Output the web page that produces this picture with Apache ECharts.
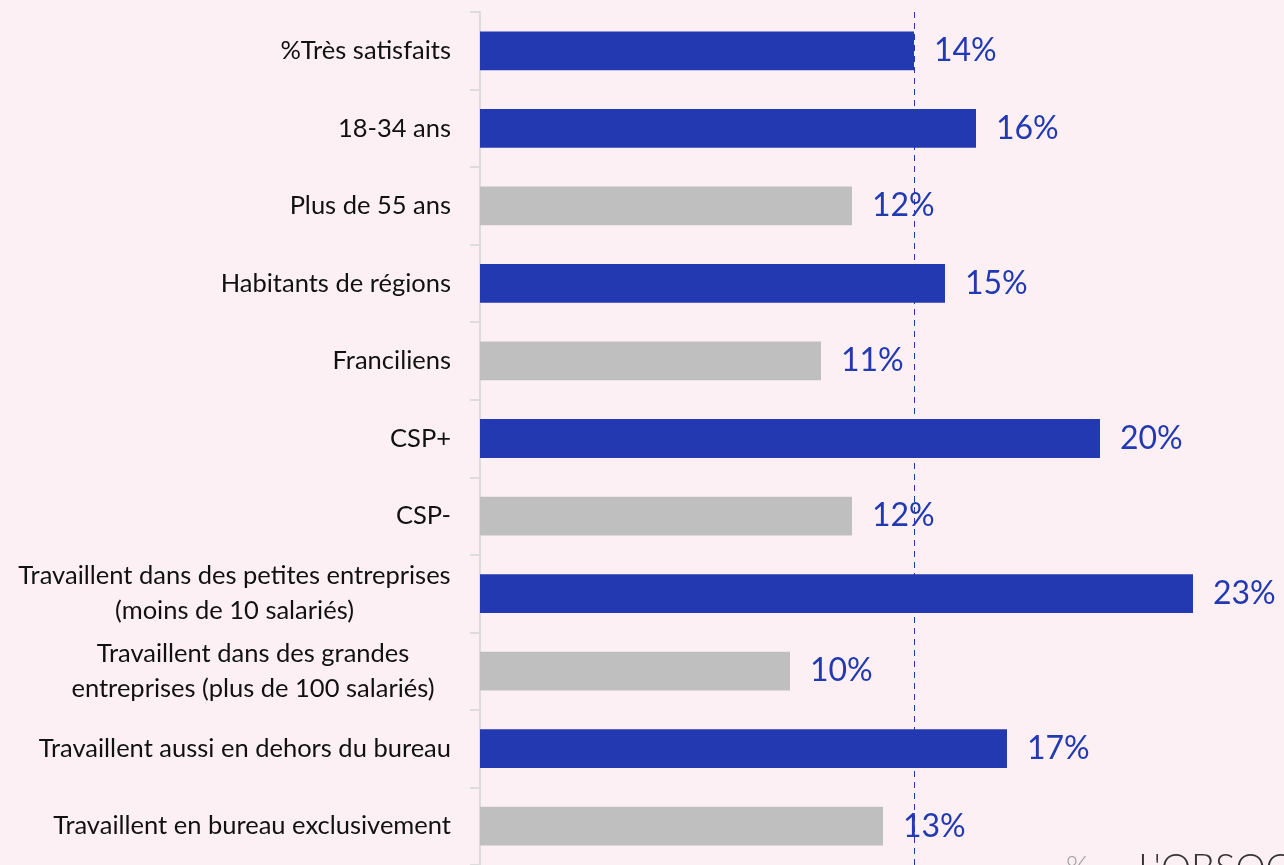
<!DOCTYPE html>
<html>
<head>
<meta charset="utf-8">
<script src="https://cdn.jsdelivr.net/npm/echarts@6/dist/echarts.min.js"></script>
<style>
  html, body { margin: 0; padding: 0; background: #fcf0f4; }
  #chart { width: 1284px; height: 865px; }
</style>
</head>
<body>
<div id="chart"></div>
<script>
var categories = [
    '%Très satisfaits',
    '18-34 ans',
    'Plus de 55 ans',
    'Habitants de régions',
    'Franciliens',
    'CSP+',
    'CSP-',
    'Travaillent dans des petites entreprises\n(moins de 10 salariés)',
    'Travaillent dans des grandes\nentreprises (plus de 100 salariés)',
    'Travaillent aussi en dehors du bureau',
    'Travaillent en bureau exclusivement'
];
var values = [14, 16, 12, 15, 11, 20, 12, 23, 10, 17, 13];
// true = blue bar (above average), false = grey bar
var highlighted = [true, true, false, true, false, true, false, true, false, true, false];
var averageValue = 14;

var BLUE = '#2239b2';
var GREY = '#bfbfbf';
var LABEL_FONT = 'Lato';
var LABEL_SIZE = 25.5;

var chart = echarts.init(document.getElementById('chart'));

var barData = values.map((v, i) => {
    return {
        value: v,
        itemStyle: { color: highlighted[i] ? BLUE : GREY }
    };
});

var richLine = (w, pad) => {
    return { width: w, align: 'center', fontFamily: LABEL_FONT, fontSize: LABEL_SIZE, lineHeight: 35, color: '#111', padding: [0, pad, 0, 0] };
};

var option = {
    backgroundColor: '#fcf0f4',
    animation: false,
    grid: {
        left: 480,
        width: 775,
        top: 12,
        height: 857
    },
    xAxis: {
        type: 'value',
        min: 0,
        max: 25,
        show: false
    },
    yAxis: {
        type: 'category',
        inverse: true,
        data: categories,
        axisLine: { show: true, lineStyle: { color: '#dcdcdc', width: 2 } },
        axisTick: { show: true, length: 10, lineStyle: { color: '#dcdcdc', width: 2 } },
        axisLabel: {
            margin: 29,
            color: '#111',
            fontFamily: LABEL_FONT,
            fontSize: LABEL_SIZE,
            lineHeight: 35,
            formatter: (val) => {
                if (val.indexOf('\n') < 0) {
                    return val;
                }
                var lines = val.split('\n');
                var style = lines[0].indexOf('petites') > -1 ? 'a' : 'b';
                return lines.map((l) => '{' + style + '|' + l + '}').join('\n');
            },
            rich: {
                a: richLine(433, 0),
                b: richLine(380, 8)
            }
        }
    },
    series: [{
        type: 'bar',
        data: barData,
        barWidth: '50%',
        label: {
            show: true,
            position: 'right',
            distance: 20,
            formatter: '{c}%',
            color: BLUE,
            fontFamily: 'Lato',
            fontSize: 32
        },
        markLine: {
            silent: true,
            symbol: 'none',
            label: { show: false },
            lineStyle: { color: BLUE, type: [6, 5], width: 1 },
            data: [{ xAxis: averageValue }]
        }
    }],
    graphic: [{
        type: 'text',
        left: 1066,
        top: 852,
        style: { text: '%', fill: '#a0a0a0', fontSize: 30, fontFamily: 'Lato', fontWeight: 300 }
    }, {
        type: 'text',
        left: 1138,
        top: 850,
        style: { text: "L'OBSOCO", fill: '#333', fontSize: 38, fontFamily: 'Lato', fontWeight: 300, letterSpacing: 10 }
    }]
};

chart.setOption(option);
</script>
</body>
</html>
